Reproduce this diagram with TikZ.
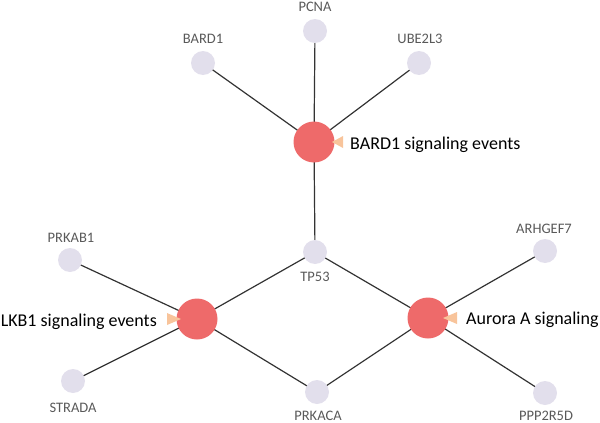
\documentclass[tikz,border=0pt]{standalone}
\usepackage{fontspec}
\setmainfont{Carlito}
\usetikzlibrary{backgrounds}
\definecolor{gene}{HTML}{E2DFEC}
\definecolor{hubred}{HTML}{EE6A6A}
\definecolor{tricol}{HTML}{F8C49B}
\definecolor{lbl}{HTML}{595959}
\definecolor{edgecol}{HTML}{333333}
\tikzset{
  gene/.style={circle,fill=gene,minimum size=24pt,inner sep=0pt},
  hub/.style={circle,fill=hubred,minimum size=41pt,inner sep=0pt},
  glabel/.style={anchor=base,inner sep=0pt,text=lbl,font=\fontsize{14.5}{17}\selectfont},
  hlabel/.style={inner sep=0pt,text=black,font=\fontsize{18}{21}\selectfont},
  link/.style={draw=edgecol,line width=1.2pt},
  tri/.style={fill=tricol}
}
\begin{document}
\begin{tikzpicture}[x=1pt,y=-1pt]
\useasboundingbox (0,0) rectangle (600,423);
% hubs
\node[hub] (hubB) at (314,142) {};
\node[hub] (hubL) at (197,319) {};
\node[hub] (hubA) at (428,318) {};
% genes
\node[gene] (pcna) at (315,31) {};
\node[gene] (bard) at (203,63) {};
\node[gene] (ube) at (419,63) {};
\node[gene] (tp) at (315,252) {};
\node[gene] (prkab) at (70,260) {};
\node[gene] (arh) at (545,251) {};
\node[gene] (strada) at (73,381) {};
\node[gene] (prkaca) at (317,392) {};
\node[gene] (ppp) at (545,393) {};
% gene labels
\node[glabel] (lpcna) at (315,11) {PCNA};
\node[glabel] (lbard) at (203,43) {BARD1};
\node[glabel] (lube) at (420,43) {UBE2L3};
\node[glabel] (ltp) at (315,281) {TP53};
\node[glabel] (lprkab) at (71,242) {PRKAB1};
\node[glabel] (larh) at (544,233) {ARHGEF7};
\node[glabel] (lstrada) at (73,412) {STRADA};
\node[glabel] (lprkaca) at (318,420) {PRKACA};
\node[glabel] (lppp) at (546,420) {PPP2R5D};
% hub labels
\node[hlabel,anchor=base west] (tB) at (350,149) {BARD1 signaling events};
\node[hlabel,anchor=base east] (tL) at (157,326) {LKB1 signaling events};
\node[hlabel,anchor=base west] (tA) at (466,324) {Aurora A signaling};
% pointer triangles
\fill[tri] ([xshift=18pt]hubB.center) -- ([xshift=29pt,yshift=-6pt]hubB.center) -- ([xshift=29pt,yshift=6pt]hubB.center) -- cycle;
\fill[tri] ([xshift=15pt]hubA.center) -- ([xshift=29pt,yshift=-6pt]hubA.center) -- ([xshift=29pt,yshift=6pt]hubA.center) -- cycle;
\fill[tri] ([xshift=-16pt]hubL.center) -- ([xshift=-30pt,yshift=-6pt]hubL.center) -- ([xshift=-30pt,yshift=6pt]hubL.center) -- cycle;
% edges
\begin{scope}[on background layer]
\draw[link] (hubB.center) -- (pcna.center);
\draw[link] (hubB.center) -- (bard.center);
\draw[link] (hubB.center) -- (ube.center);
\draw[link] (hubB.center) -- (tp.center);
\draw[link] (hubL.center) -- (prkab.center);
\draw[link] (hubL.center) -- (strada.center);
\draw[link] (hubL.center) -- (tp.center);
\draw[link] (hubL.center) -- (prkaca.center);
\draw[link] (hubA.center) -- (tp.center);
\draw[link] (hubA.center) -- (prkaca.center);
\draw[link] (hubA.center) -- (arh.center);
\draw[link] (hubA.center) -- (ppp.center);
\end{scope}
\end{tikzpicture}
\end{document}
